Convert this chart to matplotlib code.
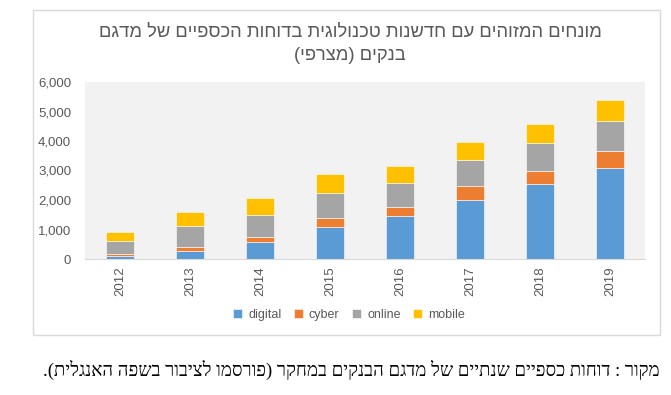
import numpy as np
import matplotlib
matplotlib.use('Agg')
import matplotlib.pyplot as plt
from matplotlib.patches import Rectangle

plt.rcParams['font.family'] = ['Liberation Sans', 'DejaVu Sans']

years = ['2012', '2013', '2014', '2015', '2016', '2017', '2018', '2019']
digital = [110, 270, 590, 1080, 1465, 2010, 2550, 3070]
cyber = [60, 125, 155, 320, 295, 450, 450, 595]
online = [440, 720, 745, 835, 810, 900, 925, 1005]
mobile = [300, 465, 565, 640, 585, 600, 655, 710]

series = [('digital', digital, '#5B9BD5'),
          ('cyber', cyber, '#ED7D31'),
          ('online', online, '#A5A5A5'),
          ('mobile', mobile, '#FFC000')]

title = ['מונחים המזוהים עם חדשנות טכנולוגית בדוחות הכספיים של מדגם',
         'בנקים (מצרפי)']
source = 'מקור : דוחות כספיים שנתיים של מדגם הבנקים במחקר (פורסמו לציבור בשפה האנגלית).'


def visual(s):
    # matplotlib has no bidi support, so flip the Hebrew by hand
    swap = {'(': ')', ')': '('}
    return ''.join(swap.get(c, c) for c in reversed(s))


W, H = 671, 395
fig = plt.figure(figsize=(W / 100, H / 100), dpi=100)

# chart frame
fig.patches.append(Rectangle((33 / W, 1 - 335 / H), 627 / W, 325 / H,
                             transform=fig.transFigure, fill=False,
                             edgecolor='#D9D9D9', linewidth=1))

ax = fig.add_axes([85 / W, 1 - 259 / H, 560 / W, 177 / H])
ax.set_facecolor('#F2F2F2')

x = np.arange(len(years))
bottom = np.zeros(len(years))
for name, vals, col in series:
    ax.bar(x, vals, width=0.4, bottom=bottom, color=col, label=name,
           edgecolor='white', linewidth=0.4)
    bottom += np.array(vals)

ax.set_xlim(-0.5, len(years) - 0.5)
ax.set_ylim(0, 6000)
ax.set_yticks(range(0, 6001, 1000))
ax.set_yticklabels(['{:,}'.format(v) for v in range(0, 6001, 1000)])
ax.set_xticks(x)
ax.set_xticklabels(years, rotation=90)
ax.tick_params(axis='both', length=0, colors='#595959', labelsize=9.5)
ax.tick_params(axis='y', pad=10)
ax.tick_params(axis='x', pad=5)
for s in ['top', 'right', 'left']:
    ax.spines[s].set_visible(False)
ax.spines['bottom'].set_color('#D9D9D9')

ax.legend(loc='center', bbox_to_anchor=(349 / W, 1 - 315 / H),
          bbox_transform=fig.transFigure, ncol=4, frameon=False,
          fontsize=9, labelcolor='#595959', handlelength=0.7,
          handleheight=0.7, columnspacing=1.0, handletextpad=0.5)

fig.text(350 / W, 1 - 32 / H, visual(title[0]), ha='center', va='center',
         fontsize=13.2, color='#595959')
fig.text(350 / W, 1 - 55 / H, visual(title[1]), ha='center', va='center',
         fontsize=13.2, color='#595959')

fig.text(660 / W, 1 - 370 / H, visual(source), ha='right', va='center',
         fontsize=13.4, color='black', family=['Liberation Serif', 'DejaVu Serif'])

fig.savefig('out.png', dpi=100)
